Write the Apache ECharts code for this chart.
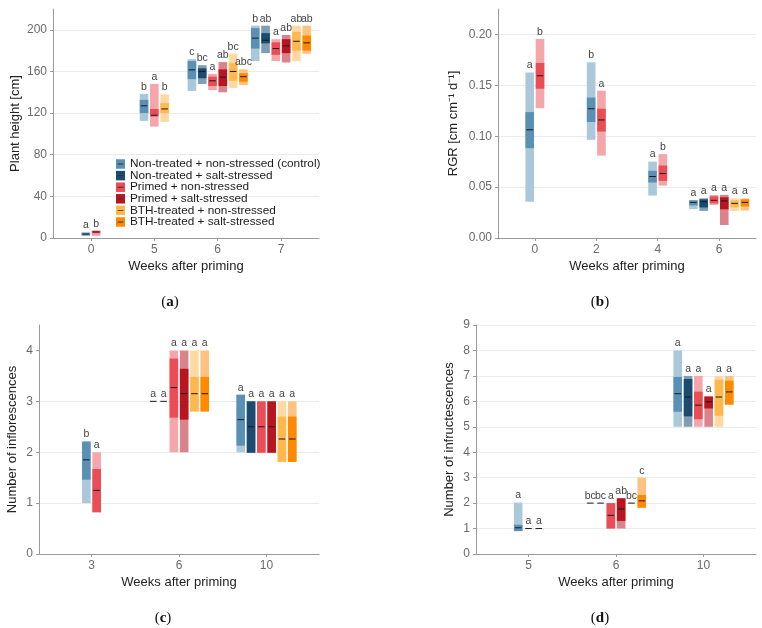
<!DOCTYPE html>
<html>
<head>
<meta charset="utf-8">
<script src="https://cdn.jsdelivr.net/npm/echarts@6/dist/echarts.min.js"></script>
<style>
html, body { margin: 0; padding: 0; background: #fff; }
#chartdiv { width: 762px; height: 628px; }
</style>
</head>
<body>
<div id="chartdiv"></div>
<script>
var treatments = [
    'Non-treated + non-stressed (control)',
    'Non-treated + salt-stressed',
    'Primed + non-stressed',
    'Primed + salt-stressed',
    'BTH-treated + non-stressed',
    'BTH-treated + salt-stressed'
];
var innerColors = ['#5b90b5', '#1b4b6e', '#ea4d55', '#b81520', '#ffb84d', '#ff8a00'];
var outerColors = ['#aac8da', '#7f9eb4', '#f5a6ab', '#d9838a', '#ffd9a1', '#ffc27f'];

// rows: [week index, treatment, min, lower, median, upper, max, letter]
var heightWeeks = ['0', '5', '6', '7'];
var heightRows = [
    [0, 0, 2.0, 2.5, 3.8, 5.0, 5.5, 'a'],
    [0, 2, 2.0, 4.5, 5.8, 7.0, 7.0, 'b'],
    [1, 0, 112.5, 120, 127, 132.7, 138.5, 'b'],
    [1, 2, 107, 116.7, 118, 124, 148, 'a'],
    [1, 4, 111.5, 120, 124, 129.5, 138, 'b'],
    [2, 0, 141.3, 152.6, 161.5, 170, 171.8, 'c'],
    [2, 1, 148, 153.5, 160, 163, 166, 'bc'],
    [2, 2, 142, 146, 151, 155, 157.7, 'a'],
    [2, 3, 140, 146, 154.5, 162, 169, 'ab'],
    [2, 4, 144, 151, 160, 168, 177, 'bc'],
    [2, 5, 147, 150, 155, 158.3, 162, 'abc'],
    [3, 0, 170, 182, 192, 201.6, 204, 'b'],
    [3, 1, 177.6, 187, 190, 196.8, 204, 'ab'],
    [3, 2, 170, 176, 182, 188, 191, 'a'],
    [3, 3, 168.6, 177.6, 184.6, 191, 195, 'ab'],
    [3, 4, 170, 180, 189, 198, 204, 'ab'],
    [3, 5, 177, 180, 187.5, 194.5, 204, 'ab']
];

var rgrWeeks = ['0', '2', '4', '6'];
var rgrRows = [
    [0, 0, 0.0357, 0.0883, 0.1063, 0.1237, 0.1627, 'a'],
    [0, 2, 0.1276, 0.1467, 0.1594, 0.172, 0.1955, 'b'],
    [1, 0, 0.0965, 0.114, 0.127, 0.138, 0.1726, 'b'],
    [1, 2, 0.081, 0.1046, 0.116, 0.127, 0.1447, 'a'],
    [2, 0, 0.0417, 0.0545, 0.0604, 0.066, 0.0751, 'a'],
    [2, 2, 0.0515, 0.0561, 0.0633, 0.0712, 0.0824, 'b'],
    [3, 0, 0.0285, 0.032, 0.035, 0.037, 0.0374, 'a'],
    [3, 1, 0.0266, 0.030, 0.0357, 0.038, 0.039, 'a'],
    [3, 2, 0.0325, 0.034, 0.037, 0.041, 0.0423, 'a'],
    [3, 3, 0.0128, 0.0282, 0.0364, 0.040, 0.0423, 'a'],
    [3, 4, 0.0266, 0.030, 0.034, 0.037, 0.039, 'a'],
    [3, 5, 0.027, 0.031, 0.035, 0.038, 0.039, 'a']
];

var inflWeeks = ['3', '6', '10'];
var inflRows = [
    [0, 0, 1.0, 1.46, 1.85, 2.21, 2.21, 'b'],
    [0, 2, 0.82, 0.82, 1.25, 1.67, 2.0, 'a'],
    [1, 0, 3, 3, 3, 3, 3, 'a'],
    [1, 1, 3, 3, 3, 3, 3, 'a'],
    [1, 2, 2.0, 2.68, 3.27, 3.84, 4.0, 'a'],
    [1, 3, 2.0, 2.64, 3.15, 3.64, 4.0, 'a'],
    [1, 4, 2.8, 2.8, 3.15, 3.48, 4.0, 'a'],
    [1, 5, 2.8, 2.8, 3.15, 3.48, 4.0, 'a'],
    [2, 0, 2.0, 2.13, 2.64, 3.13, 3.13, 'a'],
    [2, 1, 1.99, 1.99, 2.5, 3.0, 3.0, 'a'],
    [2, 2, 1.99, 1.99, 2.5, 3.0, 3.0, 'a'],
    [2, 3, 1.99, 1.99, 2.5, 3.0, 3.0, 'a'],
    [2, 4, 1.81, 1.81, 2.26, 2.7, 3.0, 'a'],
    [2, 5, 1.81, 1.81, 2.26, 2.7, 3.0, 'a']
];

var infrWeeks = ['5', '6', '10'];
var infrRows = [
    [0, 0, 0.9, 0.9, 1.03, 1.15, 2.02, 'a'],
    [0, 1, 1, 1, 1, 1, 1, 'a'],
    [0, 2, 1, 1, 1, 1, 1, 'a'],
    [1, 0, 2, 2, 2, 2, 2, 'bc'],
    [1, 1, 2, 2, 2, 2, 2, 'bc'],
    [1, 2, 1.0, 1.0, 1.52, 2.0, 2.0, 'a'],
    [1, 3, 1.0, 1.3, 1.77, 2.19, 2.19, 'ab'],
    [1, 4, 2, 2, 2, 2, 2, 'bc'],
    [1, 5, 1.82, 1.82, 2.09, 2.32, 3.0, 'c'],
    [2, 0, 5.0, 5.59, 6.3, 6.96, 8.0, 'a'],
    [2, 1, 5.0, 5.41, 6.17, 6.88, 7.0, 'a'],
    [2, 2, 5.0, 5.3, 5.85, 6.38, 7.0, 'a'],
    [2, 3, 5.0, 5.72, 5.98, 6.19, 6.19, 'a'],
    [2, 4, 5.0, 5.43, 6.17, 6.85, 7.0, 'a'],
    [2, 5, 5.87, 5.87, 6.37, 6.81, 7.0, 'a']
];

var textFont = 'Liberation Sans, Arial, sans-serif';
var axisGray = '#9a9a9a';

var panels = [
    { rows: heightRows, weeks: heightWeeks, grid: { left: 53, top: 9, width: 266, height: 229 },
      yMax: 220, yStep: 20, yLabelStep: 40, yName: 'Plant height [cm]', yGap: 31, digits: 0 },
    { rows: rgrRows, weeks: rgrWeeks, grid: { left: 498, top: 9, width: 258, height: 229 },
      yMax: 0.225, yStep: 0.025, yLabelStep: 0.05, yName: 'RGR [cm cm\u207B\u00B9 d\u207B\u00B9]', yGap: 38, digits: 2 },
    { rows: inflRows, weeks: inflWeeks, grid: { left: 39, top: 325, width: 280, height: 229 },
      yMax: 4.5, yStep: 1, yLabelStep: 1, yName: 'Number of inflorescences', yGap: 20, digits: 0, noTop: true },
    { rows: infrRows, weeks: infrWeeks, grid: { left: 476, top: 325, width: 280, height: 229 },
      yMax: 9, yStep: 1, yLabelStep: 1, yName: 'Number of infructescences', yGap: 20, digits: 0 }
];

var slotPx = 10.3;
var boxPx = 8.6;

function makeRender(panelRows, seriesRows) {
    return function (params, api) {
        var r = seriesRows[params.dataIndex];
        var week = r[0];
        var present = panelRows.filter(function (q) { return q[0] === week; })
            .map(function (q) { return q[1]; }).sort();
        var n = present.length;
        var k = present.indexOf(r[1]);
        var cx = api.coord([week + 1, r[4]])[0] + (k - (n - 1) / 2) * slotPx;
        var y = function (v) { return api.coord([week + 1, v])[1]; };
        var yMin = y(r[2]), yLo = y(r[3]), yMed = y(r[4]), yHi = y(r[5]), yMax = y(r[6]);
        var x0 = cx - boxPx / 2;
        return {
            type: 'group',
            children: [
                { type: 'rect', shape: { x: x0, y: yMax, width: boxPx, height: yMin - yMax },
                  style: { fill: outerColors[r[1]] } },
                { type: 'rect', shape: { x: x0, y: yHi, width: boxPx, height: yLo - yHi },
                  style: { fill: innerColors[r[1]] } },
                { type: 'line', shape: { x1: cx - 3.3, y1: yMed, x2: cx + 3.3, y2: yMed },
                  style: { stroke: '#1a1a1a', lineWidth: 1 } },
                { type: 'text', x: cx, y: yMax - 1.5,
                  style: { text: r[7], fill: '#444', font: '10.5px ' + textFont,
                           align: 'center', verticalAlign: 'bottom' } }
            ]
        };
    };
}

var grids = [], xAxes = [], yAxes = [], series = [];
panels.forEach(function (p, i) {
    grids.push(p.grid);
    var weekIds = p.weeks.map(function (w, j) { return j + 1; });
    var yTicks = [];
    for (var v = 0; v <= p.yMax + 1e-9; v += p.yLabelStep) {
        yTicks.push(Math.round(v * 1000) / 1000);
    }
    xAxes.push({
        gridIndex: i, type: 'value', min: 0.4, max: p.weeks.length + 0.6,
        name: 'Weeks after priming', nameLocation: 'middle', nameGap: 22,
        nameTextStyle: { fontFamily: textFont, fontSize: 13, color: '#222' },
        axisLine: { lineStyle: { color: axisGray, width: 1 } },
        axisTick: { show: true, length: 3, customValues: weekIds, lineStyle: { color: axisGray } },
        axisLabel: { customValues: weekIds, margin: 6, fontFamily: textFont, fontSize: 12, color: '#6b6b6b',
                     formatter: function (v) { return p.weeks[Math.round(v) - 1]; } },
        splitLine: { show: false }
    });
    yAxes.push({
        gridIndex: i, type: 'value', min: 0, max: p.yMax, interval: p.yStep,
        name: p.yName, nameLocation: 'middle', nameGap: p.yGap,
        nameTextStyle: { fontFamily: textFont, fontSize: 13, color: '#222' },
        axisLine: { show: true, lineStyle: { color: axisGray, width: 1 } },
        axisTick: { show: true, length: 3, customValues: yTicks, lineStyle: { color: axisGray } },
        axisLabel: { customValues: yTicks, margin: 6, fontFamily: textFont, fontSize: 12, color: '#6b6b6b',
                     formatter: function (v) { return v.toFixed(p.digits); } },
        splitLine: { show: true, showMaxLine: !p.noTop, lineStyle: { color: '#ebebeb', width: 1 } }
    });
    treatments.forEach(function (name, t) {
        var rows = p.rows.filter(function (r) { return r[1] === t; });
        if (!rows.length) { return; }
        series.push({
            name: name,
            type: 'custom',
            xAxisIndex: i,
            yAxisIndex: i,
            itemStyle: { color: innerColors[t] },
            data: rows.map(function (r) { return [r[0] + 1, r[2], r[3], r[4], r[5], r[6]]; }),
            renderItem: makeRender(p.rows, rows)
        });
    });
});

var medianIcon = 'path://M0,0h0.01v0.01h-0.01z M9.99,9.99h0.01v0.01h-0.01z M1.8,4.5h6.4v1h-6.4z';
var legendBase = {
    orient: 'vertical', left: 116, top: 158, padding: 0,
    itemWidth: 9, itemHeight: 9.5, itemGap: -0.4, selectedMode: false
};

var options = {
    animation: false,
    grid: grids,
    xAxis: xAxes,
    yAxis: yAxes,
    legend: [
        Object.assign({}, legendBase, {
            data: treatments.map(function (n) { return { name: n, icon: 'rect' }; }),
            textStyle: { fontFamily: textFont, fontSize: 11.8, color: '#1a1a1a', lineHeight: 12 }
        }),
        Object.assign({}, legendBase, {
            data: treatments.map(function (n) {
                return { name: n, icon: medianIcon, itemStyle: { color: '#333' } };
            }),
            textStyle: { fontFamily: textFont, fontSize: 11.8, color: 'rgba(0,0,0,0)', lineHeight: 12 }
        })
    ],
    graphic: [['a', 170, 302], ['b', 600, 302], ['c', 163, 618], ['d', 600, 618]].map(function (g) {
        return {
            type: 'text', x: g[1], y: g[2],
            style: {
                text: '({b|' + g[0] + '})', align: 'center', verticalAlign: 'middle',
                font: '15px Liberation Serif, serif', fill: '#111',
                rich: { b: { fontWeight: 'bold', fontSize: 15, fontFamily: 'Liberation Serif, serif' } }
            }
        };
    }),
    series: series
};

var chartDom = document.getElementById('chartdiv');
var plot = echarts.init(chartDom);
plot.setOption(options);
</script>
</body>
</html>
